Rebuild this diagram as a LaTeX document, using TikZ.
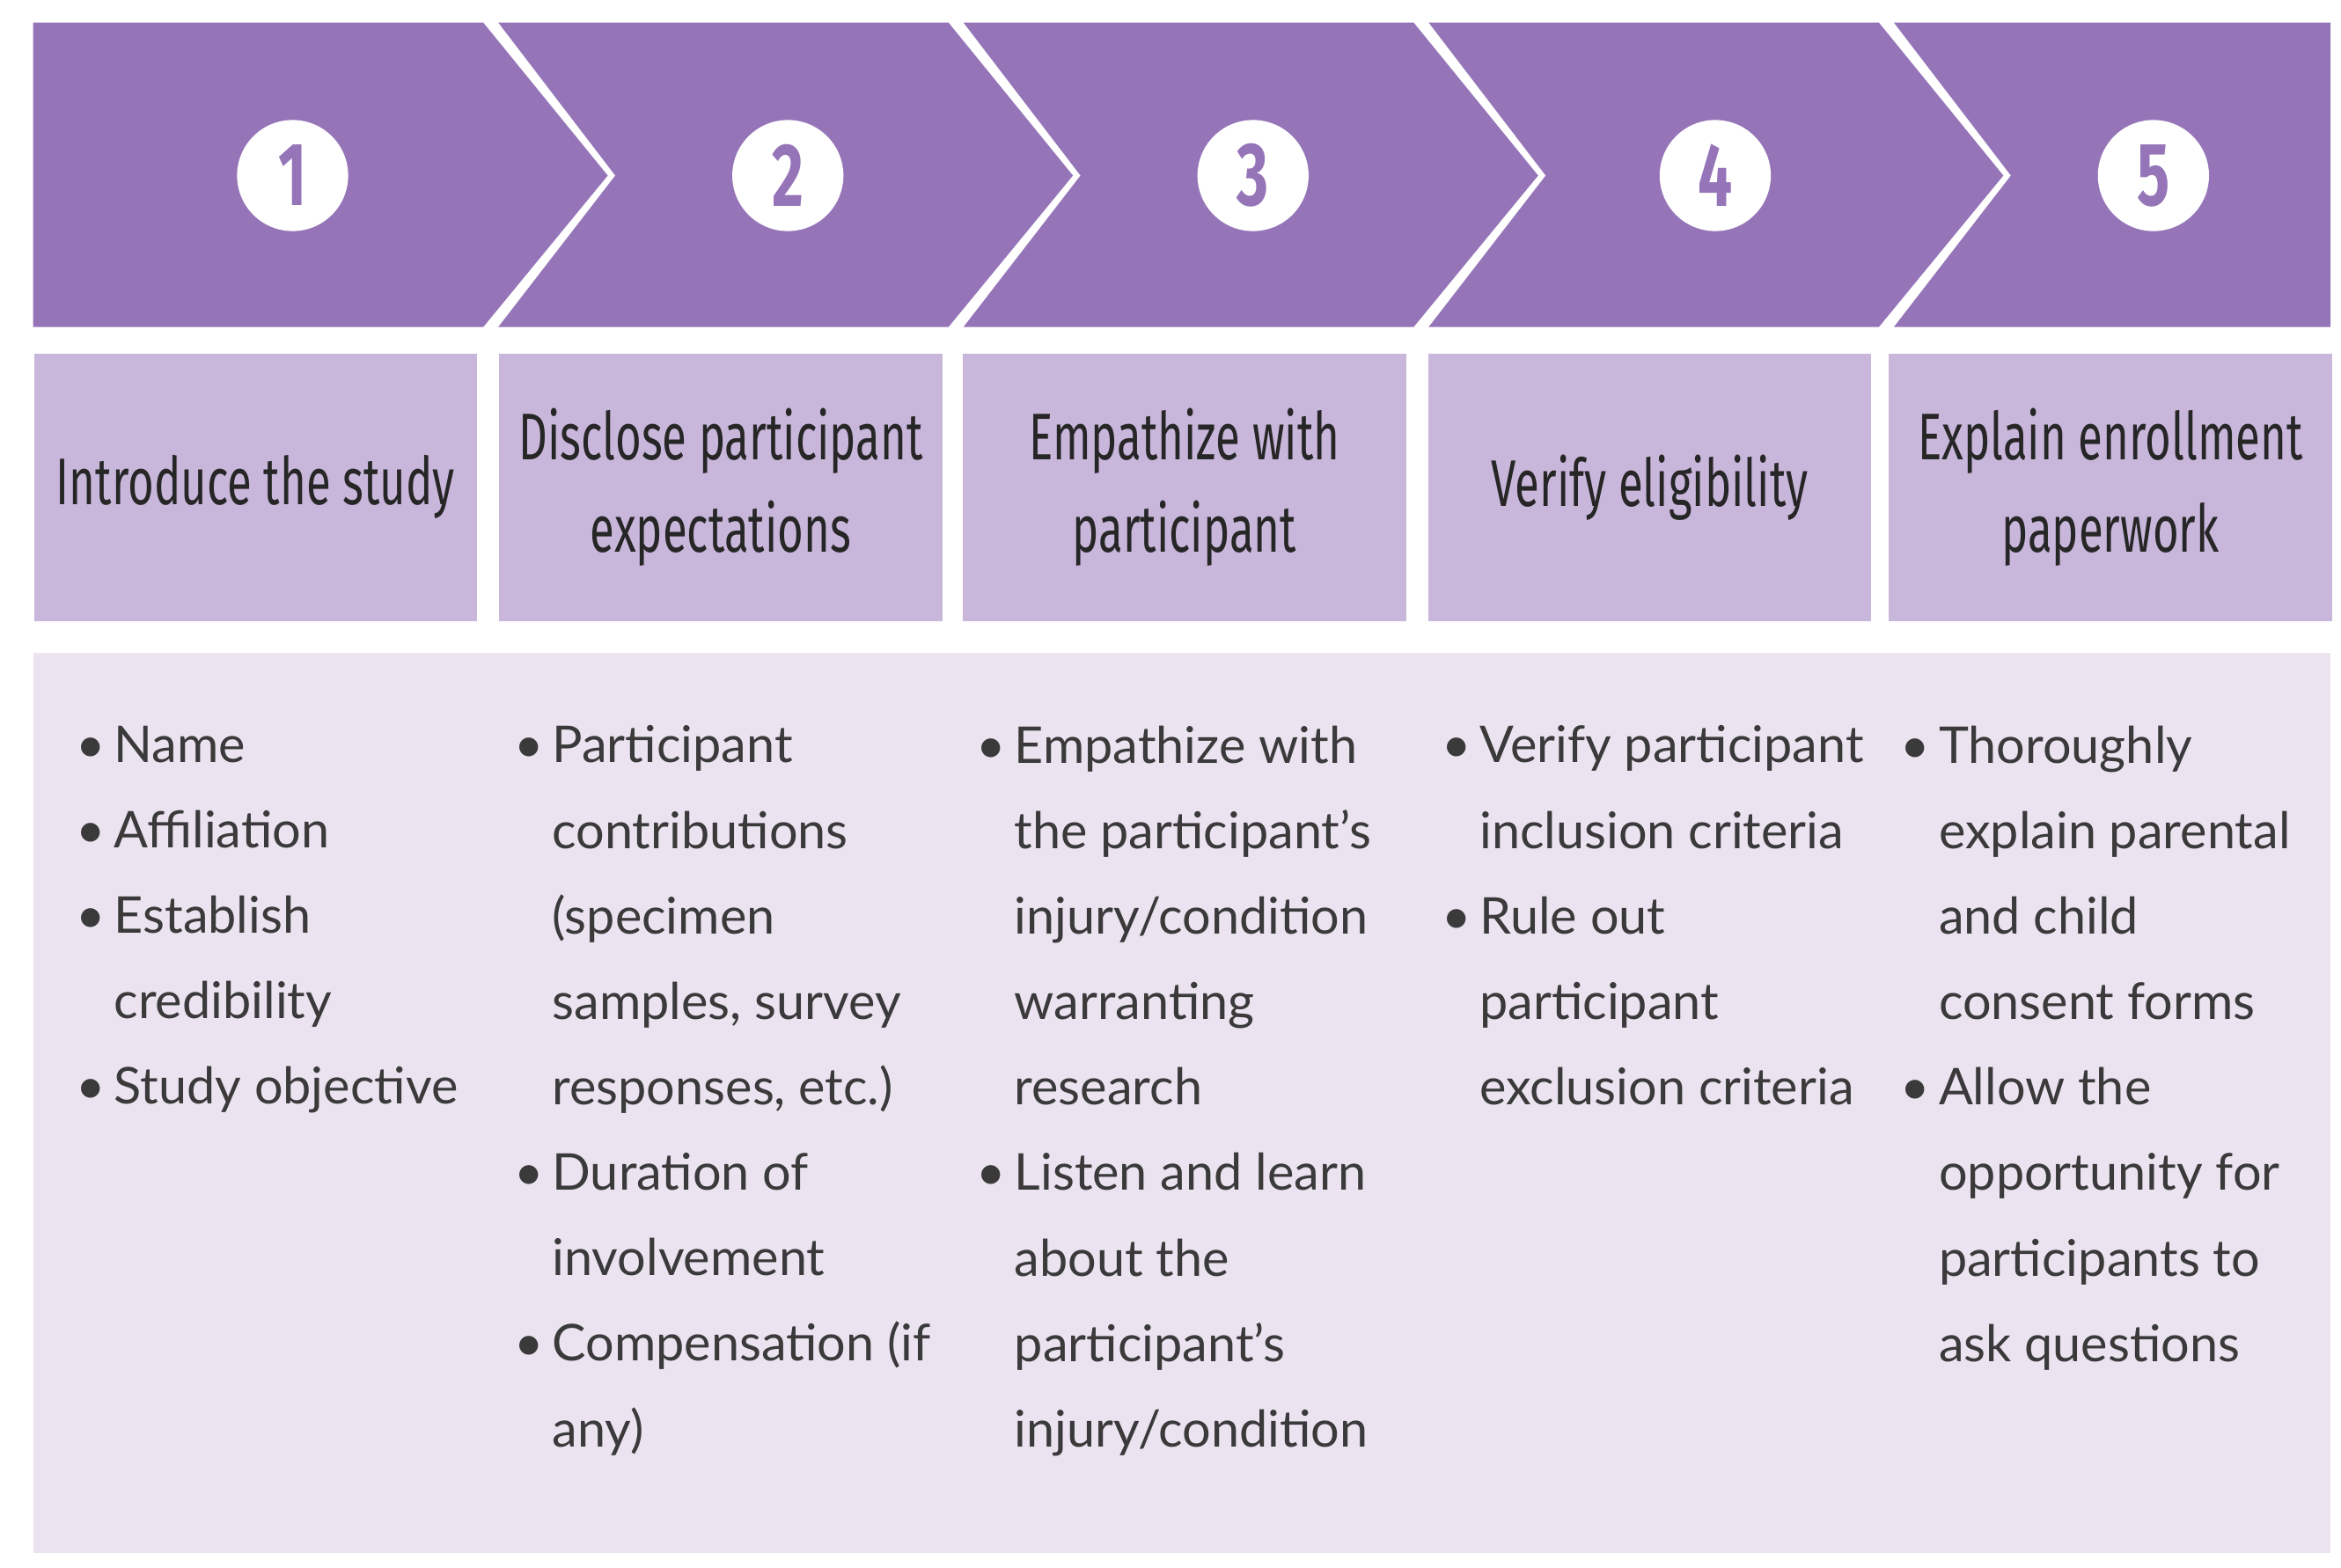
\documentclass[tikz,border=0pt]{standalone}
\usepackage{fontspec}
\setmainfont{Lato}
\newfontfamily\condfont{Fira Sans}[FakeStretch=0.68]
\definecolor{chevpurple}{HTML}{9575B8}
\definecolor{headpurple}{HTML}{C9B6DB}
\definecolor{bodypurple}{HTML}{ECE3F1}
\definecolor{textgray}{HTML}{3A3A3A}
\newcommand{\bl}{\makebox[0.75em][l]{\textbullet}}
\newcommand{\ct}{\hspace*{0.75em}}
\begin{document}
\begin{tikzpicture}[x=0.01cm,y=-0.01cm]
  \tikzstyle{HEAD} = [fill=headpurple, minimum width=2.95cm, minimum height=1.78cm, anchor=north west, inner sep=0pt, align=center, text=black!85, font=\condfont\fontsize{12.5}{17.6}\selectfont]
  \tikzstyle{NUM} = [circle, fill=white, minimum size=0.74cm, inner sep=0pt, text=chevpurple, font=\condfont\bfseries\fontsize{17}{17}\selectfont]
  \tikzstyle{LIST} = [anchor=north west, align=left, inner sep=0pt, text=textgray, font=\fontsize{9.6}{16.2}\selectfont]

  \useasboundingbox (0,0) rectangle (1560,1045);

  %%%%% CHEVRONS
  \fill[chevpurple] (22,15) -- (322,15) -- (405,117) -- (322,218) -- (22,218) -- cycle;
  \foreach \i in {1,2,3} {
    \fill[chevpurple] ({22+310*\i},15) -- ({322+310*\i},15) -- ({405+310*\i},117)
      -- ({322+310*\i},218) -- ({22+310*\i},218) -- ({100+310*\i},117) -- cycle;
  }
  \fill[chevpurple] (1262,15) -- (1553,15) -- (1553,218) -- (1262,218) -- (1340,117) -- cycle;

  \node[NUM](n1) at (195,117) {1};
  \node[NUM](n2) at (525,117) {2};
  \node[NUM](n3) at (835,117) {3};
  \node[NUM](n4) at (1143,117) {4};
  \node[NUM](n5) at (1435,117) {5};

  %%%%% HEADERS
  \node[HEAD](h1) at (22,235) {Introduce the study};
  \node[HEAD](h2) at (332,235) {Disclose participant\\expectations};
  \node[HEAD](h3) at (641,235) {Empathize with\\participant};
  \node[HEAD](h4) at (951,235) {Verify eligibility};
  \node[HEAD](h5) at (1258,235) {Explain enrollment\\paperwork};

  %%%%% BODY
  \fill[bodypurple] (22,435) rectangle (1553,1035);

  \node[LIST](l1) at (50,483) {\bl Name\\ \bl Affiliation\\ \bl Establish\\ \ct credibility\\ \bl Study objective};
  \node[LIST](l2) at (342,483) {\bl Participant\\ \ct contributions\\ \ct (specimen\\ \ct samples, survey\\ \ct responses, etc.)\\ \bl Duration of\\ \ct involvement\\ \bl Compensation (if\\ \ct any)};
  \node[LIST](l3) at (650,483) {\bl Empathize with\\ \ct the participant's\\ \ct injury/condition\\ \ct warranting\\ \ct research\\ \bl Listen and learn\\ \ct about the\\ \ct participant's\\ \ct injury/condition};
  \node[LIST](l4) at (960,483) {\bl Verify participant\\ \ct inclusion criteria\\ \bl Rule out\\ \ct participant\\ \ct exclusion criteria};
  \node[LIST](l5) at (1266,483) {\bl Thoroughly\\ \ct explain parental\\ \ct and child\\ \ct consent forms\\ \bl Allow the\\ \ct opportunity for\\ \ct participants to\\ \ct ask questions};
\end{tikzpicture}
\end{document}
